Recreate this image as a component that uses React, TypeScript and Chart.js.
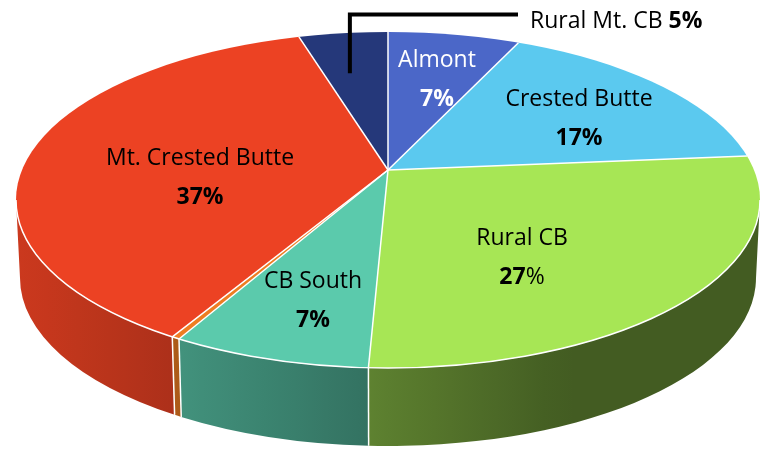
import React, { useEffect, useRef } from 'react';
import { Chart, registerables } from 'chart.js';

Chart.register(...registerables);

// ---------- data ----------
const categories = ['Almont', 'Crested Butte', 'Rural CB', 'CB South', 'Other', 'Mt. Crested Butte', 'Rural Mt. CB'];
const shares = [6.8, 16.8, 27.1, 7.3, 0.3, 37.1, 4.6];
const percentLabels = ['7%', '17%', '27%', '7%', '', '37%', '5%'];
const sliceColors = ['#4b67c8', '#5bc9ef', '#a7e655', '#5bcaac', '#ee7d22', '#ec4223', '#25387a'];

// ---------- layout / style ----------
const W = 768;
const H = 450;
const TOP = { cx: 388, cy: 200, rx: 372, ry: 168 };
const BASE = { cx: 388, cy: 278, rx: 368, ry: 168 };
const APEX = { x: 388, y: 170 };
const ASPECT = 2.25;
const FONT = '"Open Sans", Lato, sans-serif';
const FONT_SIZE = 23;
const LINE_GAP = 39;
// baseline position of the category name line for labels drawn inside slices
const LABEL_POS: (number[] | null)[] = [[437, 67], [579, 106], [522, 245], [313, 288], null, [200, 165], null];
const LABEL_COLORS = ['#ffffff', '#000000', '#000000', '#000000', '#000000', '#000000', '#000000'];
const PCT_DIGITS_ONLY_BOLD = [false, false, true, false, false, false, false];
const OUTSIDE_INDEX = 6;
const OUTSIDE_TEXT_POS = [530, 28];
const LEADER_Y = 14.5;
const LEADER_FRACTION = 0.71;
const LEADER_ANGLE_FRACTION = 0.4;

const TWO_PI = Math.PI * 2;

function rimPoint(alpha: number) {
  const dx = ASPECT * Math.cos(alpha);
  const dy = Math.sin(alpha);
  const ox = APEX.x - TOP.cx;
  const oy = APEX.y - TOP.cy;
  const A = (dx / TOP.rx) ** 2 + (dy / TOP.ry) ** 2;
  const B = 2 * ((ox * dx) / TOP.rx ** 2 + (oy * dy) / TOP.ry ** 2);
  const C = (ox / TOP.rx) ** 2 + (oy / TOP.ry) ** 2 - 1;
  const u = (-B + Math.sqrt(B * B - 4 * A * C)) / (2 * A);
  const x = APEX.x + u * dx;
  const y = APEX.y + u * dy;
  const phi = Math.atan2((y - TOP.cy) / TOP.ry, (x - TOP.cx) / TOP.rx);
  return { x, y, phi };
}

function hexToRgb(hex: string) {
  const h = hex.replace('#', '');
  return [parseInt(h.slice(0, 2), 16), parseInt(h.slice(2, 4), 16), parseInt(h.slice(4, 6), 16)];
}

function shadeAt(x: number) {
  return Math.max(0.4, Math.min(0.86, 0.86 - (x - 20) * 0.00085));
}

function wallGradient(ctx: CanvasRenderingContext2D, hex: string) {
  const x0 = TOP.cx - TOP.rx;
  const x1 = TOP.cx + TOP.rx;
  const g = ctx.createLinearGradient(x0, 0, x1, 0);
  const [r, gg, b] = hexToRgb(hex);
  const n = 24;
  for (let s = 0; s <= n; s++) {
    const x = x0 + ((x1 - x0) * s) / n;
    const f = shadeAt(x);
    g.addColorStop(s / n, `rgb(${Math.round(r * f)},${Math.round(gg * f)},${Math.round(b * f)})`);
  }
  return g;
}

type Seg = { text: string; bold: boolean };

function fontFor(bold: boolean) {
  return `${bold ? 'bold ' : ''}${FONT_SIZE}px ${FONT}`;
}

function drawSegments(ctx: CanvasRenderingContext2D, segs: Seg[], x: number, y: number, align: 'center' | 'left', color: string) {
  const widths = segs.map((s) => {
    ctx.font = fontFor(s.bold);
    return ctx.measureText(s.text).width;
  });
  const total = widths.reduce((a, b) => a + b, 0);
  let cx = align === 'center' ? x - total / 2 : x;
  ctx.textAlign = 'left';
  ctx.textBaseline = 'alphabetic';
  ctx.fillStyle = color;
  segs.forEach((s, j) => {
    ctx.font = fontFor(s.bold);
    ctx.fillText(s.text, cx, y);
    cx += widths[j];
  });
}

function pctSegments(i: number): Seg[] {
  const t = percentLabels[i];
  if (PCT_DIGITS_ONLY_BOLD[i]) {
    return [
      { text: t.replace('%', ''), bold: true },
      { text: '%', bold: false },
    ];
  }
  return [{ text: t, bold: true }];
}

const pie3d = {
  id: 'pie3d',
  beforeDatasetsDraw(chart: any) {
    const ctx: CanvasRenderingContext2D = chart.ctx;
    const arcs = chart.getDatasetMeta(0).data as any[];

    // side walls (front half of the cylinder)
    arcs.forEach((el, i) => {
      let p0 = rimPoint(el.startAngle).phi;
      const p1raw = rimPoint(el.endAngle).phi;
      while (p0 < -Math.PI / 2) p0 += TWO_PI;
      while (p0 >= 1.5 * Math.PI) p0 -= TWO_PI;
      let d = (((p1raw - p0) % TWO_PI) + TWO_PI) % TWO_PI;
      if (el.endAngle - el.startAngle >= TWO_PI - 1e-9) d = TWO_PI;
      const p1 = p0 + d;
      for (const off of [0, TWO_PI]) {
        const lo = Math.max(p0, off);
        const hi = Math.min(p1, off + Math.PI);
        if (hi <= lo) continue;
        ctx.beginPath();
        ctx.ellipse(TOP.cx, TOP.cy, TOP.rx, TOP.ry, 0, lo, hi, false);
        ctx.ellipse(BASE.cx, BASE.cy, BASE.rx, BASE.ry, 0, hi, lo, true);
        ctx.closePath();
        ctx.fillStyle = wallGradient(ctx, sliceColors[i]);
        ctx.fill();
      }
    });

    // top face: perspective sectors from apex, clipped to the rim ellipse
    const el0 = arcs[0];
    const S = 300 / el0.outerRadius;
    ctx.save();
    ctx.beginPath();
    ctx.ellipse(TOP.cx, TOP.cy, TOP.rx, TOP.ry, 0, 0, TWO_PI);
    ctx.clip();
    ctx.translate(APEX.x, APEX.y);
    ctx.scale(S * ASPECT, S);
    ctx.translate(-el0.x, -el0.y);
  },
  afterDatasetsDraw(chart: any) {
    const ctx: CanvasRenderingContext2D = chart.ctx;
    ctx.restore();
    const arcs = chart.getDatasetMeta(0).data as any[];

    // white separators
    ctx.save();
    ctx.strokeStyle = '#ffffff';
    ctx.lineWidth = 1.5;
    arcs.forEach((el) => {
      const r = rimPoint(el.startAngle);
      ctx.beginPath();
      ctx.moveTo(APEX.x, APEX.y);
      ctx.lineTo(r.x, r.y);
      ctx.stroke();
      let phi = r.phi;
      if (phi < 0) phi += TWO_PI;
      if (phi > 0 && phi < Math.PI) {
        ctx.beginPath();
        ctx.moveTo(TOP.cx + TOP.rx * Math.cos(phi), TOP.cy + TOP.ry * Math.sin(phi));
        ctx.lineTo(BASE.cx + BASE.rx * Math.cos(phi), BASE.cy + BASE.ry * Math.sin(phi));
        ctx.stroke();
      }
    });
    ctx.beginPath();
    ctx.ellipse(TOP.cx, TOP.cy, TOP.rx, TOP.ry, 0, 0, Math.PI);
    ctx.stroke();
    ctx.restore();

    // labels inside slices
    ctx.save();
    categories.forEach((name, i) => {
      const pos = LABEL_POS[i];
      if (!pos) return;
      drawSegments(ctx, [{ text: name, bold: false }], pos[0], pos[1], 'center', LABEL_COLORS[i]);
      drawSegments(ctx, pctSegments(i), pos[0], pos[1] + LINE_GAP, 'center', LABEL_COLORS[i]);
    });

    // outside label with leader line
    const el = arcs[OUTSIDE_INDEX];
    const ang = el.startAngle + (el.endAngle - el.startAngle) * LEADER_ANGLE_FRACTION;
    const rim = rimPoint(ang);
    const sx = APEX.x + (rim.x - APEX.x) * LEADER_FRACTION;
    const sy = APEX.y + (rim.y - APEX.y) * LEADER_FRACTION;
    ctx.strokeStyle = '#000000';
    ctx.lineWidth = 4;
    ctx.lineJoin = 'miter';
    ctx.lineCap = 'butt';
    ctx.beginPath();
    ctx.moveTo(sx, sy);
    ctx.lineTo(sx, LEADER_Y);
    ctx.lineTo(OUTSIDE_TEXT_POS[0] - 12, LEADER_Y);
    ctx.stroke();
    drawSegments(
      ctx,
      [
        { text: categories[OUTSIDE_INDEX] + ' ', bold: false },
        { text: percentLabels[OUTSIDE_INDEX], bold: true },
      ],
      OUTSIDE_TEXT_POS[0],
      OUTSIDE_TEXT_POS[1],
      'left',
      '#000000'
    );
    ctx.restore();
  },
};

export default function App() {
  const canvasRef = useRef<HTMLCanvasElement | null>(null);

  useEffect(() => {
    const canvas = canvasRef.current;
    if (!canvas) return;
    const chart = new Chart(canvas, {
      type: 'pie',
      data: {
        labels: categories,
        datasets: [
          {
            data: shares,
            backgroundColor: sliceColors,
            borderWidth: 0,
            clip: false as any,
          },
        ],
      },
      options: {
        responsive: false,
        animation: false,
        devicePixelRatio: 1,
        events: [],
        layout: { padding: 0 },
        plugins: {
          legend: { display: false },
          tooltip: { enabled: false },
        },
      },
      plugins: [pie3d as any],
    });
    return () => chart.destroy();
  }, []);

  return (
    <div style={{ position: 'absolute', left: 0, top: 0, width: W, height: H, background: '#ffffff' }}>
      <canvas ref={canvasRef} width={W} height={H} style={{ display: 'block', width: W, height: H }} />
    </div>
  );
}
